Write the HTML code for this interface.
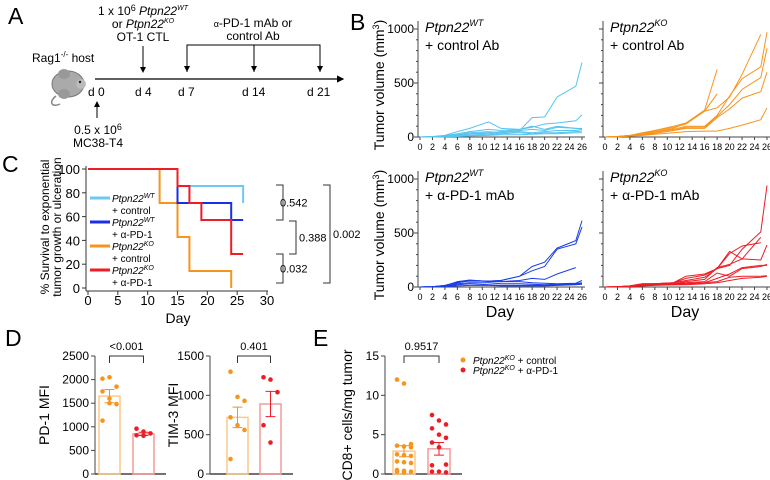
<!DOCTYPE html>
<html><head><meta charset="utf-8">
<style>
body{margin:0;background:#fff;}
svg{display:block;font-family:"Liberation Sans",Arial,sans-serif;}
</style></head>
<body>
<svg id="fig" width="770" height="480" viewBox="0 0 770 480" xmlns="http://www.w3.org/2000/svg">
<defs><marker id="ah" markerWidth="6" markerHeight="6" refX="5" refY="3" orient="auto"><path d="M0,0 L6,3 L0,6 z" fill="#000"/></marker></defs>
<text x="8" y="24" font-size="23">A</text>
<text x="350" y="30" font-size="23">B</text>
<text x="2" y="172" font-size="23">C</text>
<text x="5" y="346" font-size="23">D</text>
<text x="313" y="346" font-size="23">E</text>

<g font-size="12">
  <text x="32" y="62">Rag1<tspan font-size="8" dy="-5">-/-</tspan><tspan dy="5"> host</tspan></text>
  <g>
    <path d="M56,96 C48,102 52,108 60,104" stroke="#888" fill="none" stroke-width="1.5"/>
    <ellipse cx="68" cy="84" rx="16" ry="13" fill="#aaa" stroke="#777"/>
    <ellipse cx="64" cy="74" rx="6" ry="5" fill="#999"/>
    <ellipse cx="64" cy="94" rx="6" ry="5" fill="#999"/>
    <ellipse cx="81" cy="84" rx="5" ry="5" fill="#bbb"/>
    <circle cx="80" cy="82" r="1.2" fill="#222"/>
  </g>
  <line x1="95" y1="79" x2="343" y2="79" stroke="#000" stroke-width="1.2" marker-end="url(#ah)"/>
  <text x="88" y="96">d 0</text>
  <text x="135" y="96">d 4</text>
  <text x="178" y="96">d 7</text>
  <text x="242" y="96">d 14</text>
  <text x="307" y="96">d 21</text>
  <line x1="143" y1="46" x2="143" y2="72" stroke="#000" marker-end="url(#ah)"/>
  <path d="M187,72 V45 H320 V72 M254,45 V72" fill="none" stroke="#000"/>
  <line x1="187" y1="60" x2="187" y2="71" stroke="#000" marker-end="url(#ah)"/>
  <line x1="254" y1="60" x2="254" y2="71" stroke="#000" marker-end="url(#ah)"/>
  <line x1="320" y1="60" x2="320" y2="71" stroke="#000" marker-end="url(#ah)"/>
  <line x1="97" y1="118" x2="97" y2="102" stroke="#000" marker-end="url(#ah)"/>
  <text x="143" y="15" text-anchor="middle">1 x 10<tspan font-size="9" dy="-4">6</tspan><tspan dy="4" font-style="italic"> Ptpn22</tspan><tspan font-size="7" dy="-5" font-style="italic">WT</tspan></text>
  <text x="143" y="28" text-anchor="middle">or <tspan font-style="italic">Ptpn22</tspan><tspan font-size="7" dy="-5" font-style="italic">KO</tspan></text>
  <text x="143" y="41" text-anchor="middle">OT-1 CTL</text>
  <text x="253" y="27" text-anchor="middle"><tspan font-size="9">α</tspan>-PD-1 mAb or</text>
  <text x="253" y="40" text-anchor="middle">control Ab</text>
  <text x="98" y="134" text-anchor="middle">0.5 x 10<tspan font-size="9" dy="-4">6</tspan></text>
  <text x="98" y="147" text-anchor="middle">MC38-T4</text>
</g>
<g id="gB"></g>
<g id="gC"></g>
<g id="gD"></g>
<g id="gE"></g>
</svg>
<script>
const NS='http://www.w3.org/2000/svg';
function mk(parent,tag,attrs,name){const el=document.createElementNS(NS,tag);for(const k in attrs)el.setAttribute(k,attrs[k]);


parent.appendChild(el);return el;}
function txt(parent,x,y,s,size,name,anchor,extra){const t=mk(parent,'text',Object.assign({x:x,y:y,'font-size':size,'text-anchor':anchor||'start'},extra||{}),name);t.textContent=s;return t;}

// ---------- Panel B data ----------
const tumorDays=[0,2,4,6,8,11,13,16,18,20,22,25,26];
const wtCtrl=[
 [0,2,10,20,30,40,50,60,180,185,370,470,690],
 [0,3,12,30,50,70,60,70,90,120,130,150,205],
 [0,5,15,50,80,140,80,70,100,70,100,80,80],
 [0,2,8,20,40,50,40,60,70,60,90,80,75],
 [0,1,5,15,25,30,40,50,40,50,60,60,70],
 [0,1,4,10,15,20,30,40,30,40,40,50,55],
 [0,1,3,5,10,15,20,20,25,30,30,40,40]];
const koCtrl=[
 [0,5,15,30,60,100,130,250,625,null,null,null,null],
 [0,5,15,40,60,90,120,240,400,null,null,null,null],
 [0,5,15,30,50,80,130,240,270,370,580,950,null],
 [0,4,12,25,45,70,100,100,200,380,540,650,970],
 [0,3,10,20,35,60,90,90,190,300,440,550,820],
 [0,3,10,20,35,60,80,80,180,260,360,420,600],
 [0,2,8,15,25,40,50,55,55,80,110,160,270]];
const wtPd1=[
 [0,3,15,40,60,55,60,100,190,230,360,430,615],
 [0,3,15,45,55,55,60,100,150,190,350,400,555],
 [0,3,12,40,60,55,50,60,80,70,120,180,null],
 [0,3,10,50,65,50,50,50,40,35,30,35,60],
 [0,2,8,30,40,40,30,30,25,20,25,30,40],
 [0,2,5,20,30,20,15,15,15,15,20,25,30],
 [0,1,4,10,15,15,10,10,10,10,15,20,25]];
const koPd1=[
 [0,3,10,30,30,40,100,120,170,200,350,510,940],
 [0,3,10,30,30,40,80,110,170,330,260,460,null],
 [0,3,10,25,30,40,60,90,170,310,380,410,null],
 [0,2,8,20,25,30,50,70,180,210,260,250,390],
 [0,2,8,20,25,30,40,50,130,100,170,190,210],
 [0,2,6,15,20,25,30,40,80,120,180,200,200],
 [0,2,5,10,20,20,30,40,50,90,100,100,105],
 [0,1,4,10,15,20,20,30,40,60,80,90,100]];
const dayTicks=[0,2,4,6,8,10,12,14,16,18,20,22,24,26];
const volTicks=[0,500,1000];

const gB=document.getElementById('gB');
function growth(ox,yTop,yBot,series,color,name,line1sup,line2,showY,showDay){
  const xs=d=>ox+d*6.23, ys=v=>yBot-(v/1000)*(yBot-yTop);
  mk(gB,'line',{x1:ox-2,y1:yTop-8,x2:ox-2,y2:yBot,stroke:'#444','stroke-width':1},name+'-y-axis');
  mk(gB,'line',{x1:ox-2,y1:yBot,x2:ox+165,y2:yBot,stroke:'#444','stroke-width':1},name+'-x-axis');
  for(let v=0;v<=1000;v+=100){mk(gB,'line',{x1:ox-(v%500?4:6),y1:ys(v),x2:ox-2,y2:ys(v),stroke:'#444'},name+'-y-tick');}
  if(showY){volTicks.forEach(v=>txt(gB,ox-6,ys(v)+4,String(v),12,name+'-y-label','end'));}
  dayTicks.forEach(d=>{mk(gB,'line',{x1:xs(d),y1:yBot,x2:xs(d),y2:yBot+3,stroke:'#444'},name+'-x-tick');
    txt(gB,xs(d),yBot+13,String(d),9,name+'-x-label','middle');});
  series.forEach((s,i)=>{let p='';s.forEach((v,j)=>{if(v!==null)p+=(p?'L':'M')+xs(tumorDays[j]).toFixed(1)+','+ys(v).toFixed(1);});
    mk(gB,'path',{d:p,fill:'none',stroke:color,'stroke-width':1},name+'-mouse-'+(i+1));});
  const t=mk(gB,'text',{x:ox+5,y:yTop+3,'font-size':14},name+'-title-1');
  t.innerHTML='<tspan font-style="italic">Ptpn22</tspan><tspan font-size="9" dy="-6" font-style="italic">'+line1sup+'</tspan>';
  txt(gB,ox+5,yTop+21,line2,14,name+'-title-2');
  if(showDay) txt(gB,ox+80,yBot+30,'Day',16,name+'-x-title','middle');
}
growth(420,29,137,wtCtrl,'#55c4f0','wt-control','WT','+ control Ab',true,false);
growth(605,29,137,koCtrl,'#f7941d','ko-control','KO','+ control Ab',false,false);
growth(420,179,287,wtPd1,'#1a3ee8','wt-pd1','WT','+ α-PD-1 mAb',true,true);
growth(605,179,287,koPd1,'#ee1c24','ko-pd1','KO','+ α-PD-1 mAb',false,true);
[85,235].forEach((cy,i)=>{const t=mk(gB,'text',{x:0,y:0,'font-size':14,'text-anchor':'middle',transform:'translate(384,'+cy+') rotate(-90)'},'y-axis-title-'+(i+1));
 t.innerHTML='Tumor volume (mm<tspan font-size="9" dy="-5">3</tspan><tspan dy="5">)</tspan>';});

// ---------- Panel C data ----------
const survDays=[0,5,10,15,20,25,30];
const survTicks=[0,20,40,60,80,100];
const wtCtrlSurv=[[0,100],[15,85.7],[26,71.4]];
const wtPd1Surv=[[0,100],[15,71.4],[24,57.1],[26,57.1]];
const koCtrlSurv=[[0,100],[12,71.4],[15,42.9],[17,14.3],[24,0]];
const koPd1Surv=[[0,100],[15,85.7],[17,71.4],[19,57.1],[24,28.6],[26,28.6]];
const gC=document.getElementById('gC');
const cx=d=>88+d*(179/30), cy=v=>288-v*1.19;
mk(gC,'line',{x1:86,y1:166,x2:86,y2:291,stroke:'#333'},'survival-y-axis');
mk(gC,'line',{x1:86,y1:291,x2:268,y2:291,stroke:'#333'},'survival-x-axis');
survTicks.forEach(v=>{mk(gC,'line',{x1:82,y1:cy(v),x2:86,y2:cy(v),stroke:'#333'},'survival-y-tick');txt(gC,80,cy(v)+5,String(v),13,'survival-y-label','end');});
survDays.forEach(d=>{mk(gC,'line',{x1:cx(d),y1:291,x2:cx(d),y2:295,stroke:'#333'},'survival-x-tick');txt(gC,cx(d),305,String(d),13,'survival-x-label','middle');});
txt(gC,178,323,'Day',14,'survival-x-title','middle');
txt(gC,0,0,'% Survival to exponential',12,'survival-y-title-1','middle',{transform:'translate(49,227) rotate(-90)'});
txt(gC,0,0,'tumor growth or ulceration',12,'survival-y-title-2','middle',{transform:'translate(61,227) rotate(-90)'});
function step(pts){let p='M'+cx(pts[0][0])+','+cy(pts[0][1]);for(let i=1;i<pts.length;i++){p+='H'+cx(pts[i][0])+'V'+cy(pts[i][1]);}return p;}
[[wtCtrlSurv,'#6cc9f5','wt-control'],[koCtrlSurv,'#f7941d','ko-control'],[wtPd1Surv,'#1a2ee8','wt-pd1'],[koPd1Surv,'#ee1c24','ko-pd1']].forEach(s=>
 mk(gC,'path',{d:step(s[0]),fill:'none',stroke:s[1],'stroke-width':2},s[2]+'-survival-curve'));
const legC=[['#6cc9f5','WT','+ control'],['#1a2ee8','WT','+ α-PD-1'],['#f7941d','KO','+ control'],['#ee1c24','KO','+ α-PD-1']];
legC.forEach((l,i)=>{const y=198+i*24;mk(gC,'line',{x1:90,y1:y,x2:110,y2:y,stroke:l[0],'stroke-width':3},'legend-swatch');
 const t=mk(gC,'text',{x:112,y:y+4,'font-size':10},'legend-entry');t.innerHTML='<tspan font-style="italic">Ptpn22</tspan><tspan font-size="7" dy="-4" font-style="italic">'+l[1]+'</tspan>';
 txt(gC,112,y+16,l[2],10,'legend-entry-sub');});
function brk(x,y1,y2,label,lx,name){mk(gC,'path',{d:'M'+(x-7)+','+y1+'H'+x+'V'+y2+'H'+(x-7),fill:'none',stroke:'#333'},name+'-bracket');txt(gC,lx,(y1+y2)/2+4,label,11,name+'-pvalue');}
brk(283,185,220,'0.542',280,'c1');brk(296,221,254,'0.388',299,'c2');brk(283,254,283,'0.032',280,'c3');brk(330,185,283,'0.002',333,'c4');

// ---------- Panel D data ----------
const pd1Means=[1650,850];
const pd1Sem=[140,35];
const pd1Orange=[2020,2050,1850,1750,1500,1480,1130,1600];
const pd1Red=[960,900,860,820,810];
const pd1Ticks=[0,500,1000,1500,2000,2500];
const timMeans=[720,890];
const timSem=[130,160];
const timOrange=[1300,980,930,720,620,560,190];
const timRed=[1230,1200,1040,620,400];
const timTicks=[0,500,1000,1500];
const gD=document.getElementById('gD');
function barPlot(g,ax,yTop,yBot,max,ticks,means,sems,dots,bx,bw,name,title,tx,pval){
  const ys=v=>yBot-(v/max)*(yBot-yTop);
  mk(g,'line',{x1:ax,y1:yTop,x2:ax,y2:yBot,stroke:'#444'},name+'-y-axis');
  mk(g,'line',{x1:ax,y1:yBot,x2:bx[1]+bw+12,y2:yBot,stroke:'#444','stroke-width':1.5},name+'-x-axis');
  ticks.forEach(v=>{mk(g,'line',{x1:ax-4,y1:ys(v),x2:ax,y2:ys(v),stroke:'#444'},name+'-y-tick');txt(g,ax-6,ys(v)+4,String(v),12,name+'-y-label','end');});
  const cols=[['#fbc98a','#f7941d'],['#f59a9a','#ee1c24']];
  means.forEach((m,i)=>{mk(g,'rect',{x:bx[i],y:ys(m),width:bw,height:yBot-ys(m),fill:'none',stroke:cols[i][0],'stroke-width':1.5},name+'-bar-'+(i+1));
    const c=bx[i]+bw/2;
    mk(g,'path',{d:'M'+(c-5)+','+ys(m+sems[i])+'H'+(c+5)+'M'+c+','+ys(m+sems[i])+'V'+ys(m-sems[i])+'M'+(c-5)+','+ys(m-sems[i])+'H'+(c+5),stroke:cols[i][1],fill:'none'},name+'-error-bar-'+(i+1));
    dots[i].forEach((v,j)=>{const off=((j%3)-1)*7;mk(g,'circle',{cx:c+off,cy:ys(v),r:2.3,fill:cols[i][1]},name+'-dot');});});
  const c1=bx[0]+bw/2,c2=bx[1]+bw/2;
  mk(g,'path',{d:'M'+c1+','+(yTop+7)+'V'+yTop+'H'+c2+'V'+(yTop+7),fill:'none',stroke:'#333'},name+'-sig-bracket');
  txt(g,(c1+c2)/2,yTop-6,pval,11,name+'-pvalue','middle');
  txt(g,0,0,title,14,name+'-y-title','middle',{transform:'translate('+tx+','+((yTop+yBot)/2)+') rotate(-90)'});
}
barPlot(gD,95,356,474,2500,pd1Ticks,pd1Means,pd1Sem,[pd1Orange,pd1Red],[99,133],21,'pd1-mfi','PD-1 MFI',49,'<0.001');
barPlot(gD,210,356,474,1500,timTicks,timMeans,timSem,[timOrange,timRed],[227,260],21,'tim3-mfi','TIM-3 MFI',178,'0.401');

// ---------- Panel E data ----------
const cd8Means=[2.9,3.2];
const cd8Sem=[0.7,0.8];
const cd8Orange=[12,11.5,3.8,3.6,3.5,3.4,2.5,2.4,2.3,1.6,1.5,1.4,0.5,0.4,0.3,0.3,0.2];
const cd8Red=[7.5,6.8,6.3,5.8,5.0,4.6,4.0,3.4,1.2,1.1,0.3,0.2,0.3];
const cd8Ticks=[0,5,10,15];
const gE=document.getElementById('gE');
barPlot(gE,385,356,474,15,cd8Ticks,cd8Means,cd8Sem,[cd8Orange,cd8Red],[393,428],22,'cd8','CD8+ cells/mg tumor',352,'0.9517');
mk(gE,'circle',{cx:463,cy:360,r:2.5,fill:'#f7941d'},'legend-dot-control');
mk(gE,'circle',{cx:463,cy:370,r:2.5,fill:'#ee1c24'},'legend-dot-pd1');
let t1=mk(gE,'text',{x:473,y:364,'font-size':10},'legend-entry-control');t1.innerHTML='<tspan font-style="italic">Ptpn22</tspan><tspan font-size="7" dy="-4" font-style="italic">KO</tspan><tspan dy="4"> + control</tspan>';
let t2=mk(gE,'text',{x:473,y:374,'font-size':10},'legend-entry-pd1');t2.innerHTML='<tspan font-style="italic">Ptpn22</tspan><tspan font-size="7" dy="-4" font-style="italic">KO</tspan><tspan dy="4"> + α-PD-1</tspan>';
</script>
</body></html>
